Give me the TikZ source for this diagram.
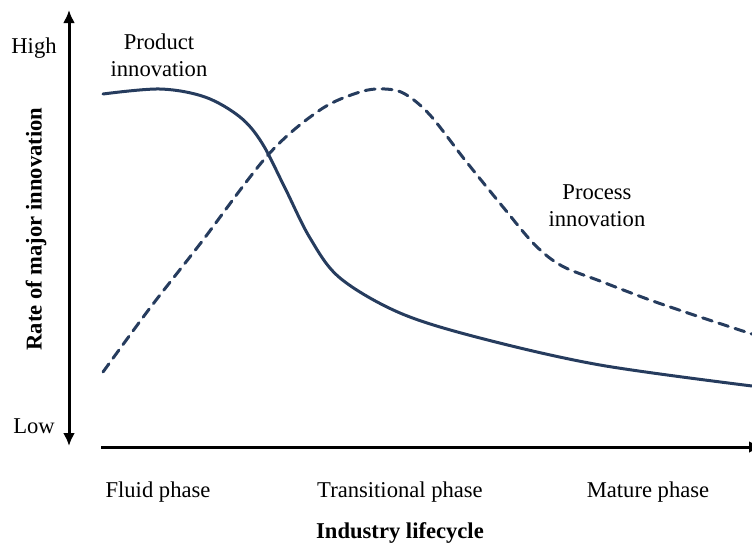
\documentclass[tikz,border=0pt]{standalone}
\usepackage{fontspec}
\setmainfont{Liberation Serif}
\usetikzlibrary{arrows.meta,positioning}
\definecolor{navy}{RGB}{38,60,94}

\begin{document}
\begin{tikzpicture}[x=0.5pt, y=-0.5pt,
        axis/.style={line width=1.5pt},
        tip/.tip={Latex[length=6.5pt,width=6pt]},
        curve/.style={navy, line width=1.5pt, line cap=round},
        lbl/.style={font=\fontsize{11.3}{13.5}\selectfont, align=center, inner sep=0pt},
        bold lbl/.style={lbl, font=\fontsize{11.3}{13.5}\selectfont\bfseries}]
        \useasboundingbox (0,0) rectangle (752,547);

        % Axes end points
        \coordinate (ytop) at (69, 10);
        \coordinate (ybot) at (69, 446);
        \coordinate (xleft) at (101, 447);
        \coordinate (xright) at (762, 447);

        \draw [axis, tip-tip] (ybot) -- (ytop);
        \draw [axis, -tip] (xleft) -- (xright);

        % Axis labels
        \node [lbl] (high) at (34, 48) {High};
        \node [lbl] (low) at (34, 426) {Low};
        \node [bold lbl, rotate=90] (rate) at (36, 229) {Rate of major innovation};
        \node [lbl] (fluid) at (158, 492) {Fluid phase};
        \node [lbl] (trans) at (400, 492) {Transitional phase};
        \node [lbl] (mature) at (648, 492) {Mature phase};
        \node [bold lbl] (life) at (400, 533) {Industry lifecycle};

        % Curve labels
        \node [lbl] (prod) at (159, 55) {Product\\innovation};
        \node [lbl] (proc) at (597, 206) {Process\\innovation};

        % Product innovation curve
        \coordinate (P1) at (103, 94);
        \coordinate (P2) at (160, 89);
        \coordinate (P3) at (205, 97);
        \coordinate (P4) at (240, 117);
        \coordinate (P5) at (262, 143);
        \coordinate (P6) at (285, 188);
        \coordinate (P7) at (310, 238);
        \coordinate (P8) at (340, 278);
        \coordinate (P9) at (400, 313);
        \coordinate (P10) at (480, 338);
        \coordinate (P11) at (600, 365);
        \coordinate (P12) at (752, 386);
        \draw [curve] plot [smooth, tension=0.55] coordinates
            {(P1) (P2) (P3) (P4) (P5) (P6) (P7) (P8) (P9) (P10) (P11) (P12)};

        % Process innovation curve
        \coordinate (Q1) at (103, 372);
        \coordinate (Q2) at (150, 308);
        \coordinate (Q3) at (200, 244);
        \coordinate (Q4) at (268, 155);
        \coordinate (Q5) at (320, 110);
        \coordinate (Q6) at (360, 92);
        \coordinate (Q7) at (385, 89);
        \coordinate (Q8) at (405, 94);
        \coordinate (Q9) at (430, 115);
        \coordinate (Q10) at (465, 160);
        \coordinate (Q11) at (503, 207);
        \coordinate (Q12) at (535, 245);
        \coordinate (Q13) at (562, 266);
        \coordinate (Q14) at (600, 281);
        \coordinate (Q15) at (650, 300);
        \coordinate (Q16) at (700, 317);
        \coordinate (Q17) at (752, 334);
        \draw [curve, dash pattern=on 5pt off 3.5pt] plot [smooth, tension=0.55] coordinates
            {(Q1) (Q2) (Q3) (Q4) (Q5) (Q6) (Q7) (Q8) (Q9) (Q10) (Q11) (Q12) (Q13) (Q14) (Q15) (Q16) (Q17)};
\end{tikzpicture}
\end{document}
